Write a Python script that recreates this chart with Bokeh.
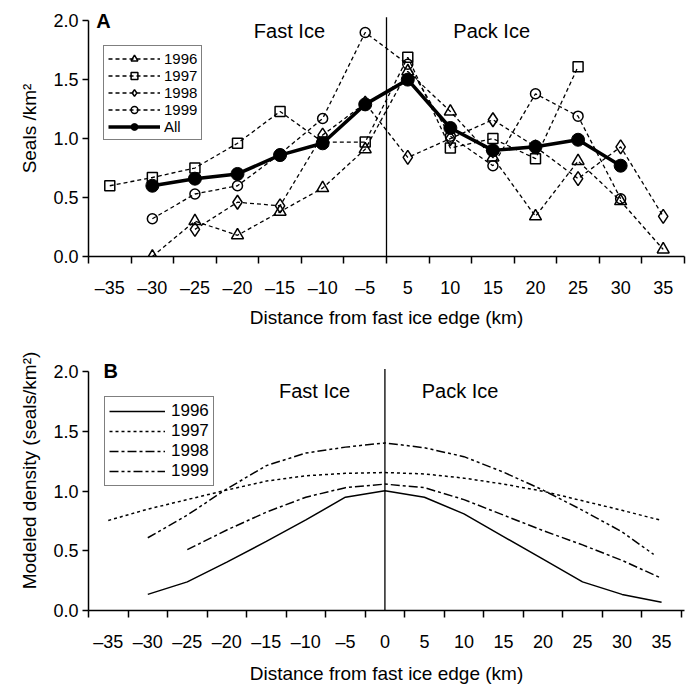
from bokeh.plotting import figure
from bokeh.layouts import column
from bokeh.models import (Range1d, FixedTicker, Label, Legend, LegendItem,
                          PrintfTickFormatter)
from bokeh.embed import file_html
from bokeh.resources import INLINE

# ---------------- Panel A data (observed densities) ----------------
dist_a = [-35, -30, -25, -20, -15, -10, -5, 5, 10, 15, 20, 25, 30, 35]

x1996_a = [-30, -25, -20, -15, -10, -5, 5, 10, 15, 20, 25, 30, 35]
y1996_a = [0.00, 0.30, 0.18, 0.38, 0.58, 0.91, 1.57, 1.23, 0.84, 0.34, 0.81, 0.47, 0.06]

x1997_a = [-35, -30, -25, -20, -15, -10, -5, 5, 10, 15, 20, 25]
y1997_a = [0.60, 0.67, 0.75, 0.96, 1.23, 0.97, 0.97, 1.69, 0.92, 1.00, 0.83, 1.61]

x1998_a = [-25, -20, -15, -10, -5, 5, 10, 15, 20, 25, 30, 35]
y1998_a = [0.23, 0.46, 0.43, 1.03, 1.30, 0.84, 1.00, 1.16, 0.93, 0.66, 0.93, 0.34]

x1999_a = [-30, -25, -20, -15, -10, -5, 5, 10, 15, 20, 25, 30]
y1999_a = [0.32, 0.53, 0.60, 0.87, 1.17, 1.90, 1.63, 1.02, 0.77, 1.38, 1.19, 0.49]

xall_a = [-30, -25, -20, -15, -10, -5, 5, 10, 15, 20, 25, 30]
yall_a = [0.60, 0.66, 0.70, 0.86, 0.96, 1.29, 1.50, 1.09, 0.90, 0.93, 0.99, 0.77]

# ---------------- Panel B data (modeled densities) ----------------
x1996_b = [-30, -25, -20, -15, -10, -5, 0, 5, 10, 15, 20, 25, 30, 35]
y1996_b = [0.135, 0.24, 0.405, 0.58, 0.76, 0.95, 1.005, 0.95, 0.81, 0.62, 0.43, 0.24, 0.135, 0.07]

x1997_b = [-35, -30, -25, -20, -15, -10, -5, 0, 5, 10, 15, 20, 25, 30, 35]
y1997_b = [0.755, 0.85, 0.93, 1.01, 1.085, 1.13, 1.15, 1.157, 1.145, 1.11, 1.06, 1.0, 0.92, 0.84, 0.755]

x1998_b = [-25, -20, -15, -10, -5, 0, 5, 10, 15, 20, 25, 30, 35]
y1998_b = [0.51, 0.675, 0.825, 0.95, 1.03, 1.06, 1.03, 0.93, 0.80, 0.67, 0.55, 0.42, 0.27]

x1999_b = [-30, -25, -20, -15, -10, -5, 0, 5, 10, 15, 20, 25, 30, 34]
y1999_b = [0.61, 0.80, 1.02, 1.215, 1.32, 1.37, 1.405, 1.365, 1.29, 1.16, 1.01, 0.84, 0.66, 0.47]

y_ticks = [0.0, 0.5, 1.0, 1.5, 2.0]
x_ticks_b = [-35, -30, -25, -20, -15, -10, -5, 0, 5, 10, 15, 20, 25, 30, 35]

# fast-ice edge divider: category boundary in A, 0 km in B
edge_a_index = dist_a.index(5)
edge_b_km = 0
divider_top_a = 2.03
divider_top_b = 2.025

FONT = "Liberation Sans"
TICK_FS = "18px"


def en(v):
    return str(v).replace("-", "\u2013")


def style_axes(p):
    for ax in (p.xaxis[0], p.yaxis[0]):
        ax.axis_line_width = 1.5
        ax.axis_line_color = "black"
        ax.major_tick_line_width = 1.5
        ax.minor_tick_line_width = 1.5
        ax.major_tick_line_color = "black"
        ax.minor_tick_line_color = "black"
        ax.major_label_text_font = FONT
        ax.major_label_text_font_size = TICK_FS
        ax.major_label_text_color = "black"
        ax.axis_label_text_font = FONT
        ax.axis_label_text_font_size = "19px"
        ax.axis_label_text_font_style = "normal"
        ax.axis_label_text_color = "black"
    p.yaxis.major_tick_out = 6
    p.yaxis.major_tick_in = 0
    p.yaxis.minor_tick_out = 0
    p.yaxis.minor_tick_in = 0
    p.yaxis.ticker = FixedTicker(ticks=y_ticks)
    p.yaxis.formatter = PrintfTickFormatter(format="%.1f")
    p.yaxis.major_label_standoff = 4
    p.yaxis.bounds = (0, 2.0)
    p.xaxis.major_tick_out = 0
    p.xaxis.major_tick_in = 0
    p.xaxis.minor_tick_out = 7
    p.xaxis.minor_tick_in = 0
    p.xaxis.major_label_standoff = 14
    p.xgrid.visible = False
    p.ygrid.visible = False
    p.outline_line_color = None


def txt(x, y, s, bold=False):
    return Label(x=x, y=y, text=s, text_font=FONT, text_font_size="20px",
                 text_font_style="bold" if bold else "normal", text_color="black",
                 text_align="center", text_baseline="middle")


# ================= Panel A =================
ncat = len(dist_a)
pos = {d: i + 0.5 for i, d in enumerate(dist_a)}

pA = figure(width=694, height=330, x_range=Range1d(0, ncat), y_range=Range1d(0, 2.171),
            output_backend="svg", toolbar_location=None,
            min_border_left=88, min_border_right=10, min_border_top=0, min_border_bottom=63)
style_axes(pA)
pA.xaxis.ticker = FixedTicker(ticks=[pos[d] for d in dist_a], minor_ticks=list(range(ncat + 1)))
pA.xaxis.major_label_overrides = {pos[d]: en(d) for d in dist_a}
pA.xaxis.axis_label = "Distance from fast ice edge (km)"
pA.xaxis.axis_label_standoff = 6
pA.yaxis.axis_label = "Seals /km\u00b2"
pA.yaxis.axis_label_standoff = 10

pA.segment(x0=[edge_a_index], y0=[0], x1=[edge_a_index], y1=[divider_top_a],
           line_color="black", line_width=1.3)

dash = "4 3"
items = []
series_a = [
    ("1996", x1996_a, y1996_a, "triangle", 12),
    ("1997", x1997_a, y1997_a, "square", 10),
    ("1998", x1998_a, y1998_a, "diamond", 14),
    ("1999", x1999_a, y1999_a, "circle", 10),
]
for lab, xs, ys, mk, sz in series_a:
    xx = [pos[v] for v in xs]
    r1 = pA.line(xx, ys, line_color="black", line_width=1.3, line_dash=dash)
    r2 = pA.scatter(xx, ys, marker=mk, size=sz, fill_color=None,
                    line_color="black", line_width=1.5)
    items.append(LegendItem(label=lab, renderers=[r1, r2]))
xx = [pos[v] for v in xall_a]
r1 = pA.line(xx, yall_a, line_color="black", line_width=3.5)
r2 = pA.scatter(xx, yall_a, marker="circle", size=13, fill_color="black", line_color="black")
items.append(LegendItem(label="All", renderers=[r1, r2]))

legA = Legend(items=items, location=(15, 116), border_line_color="black", border_line_width=1.5,
              background_fill_color="white", background_fill_alpha=1.0,
              padding=4, spacing=0, margin=0, label_height=17, glyph_height=17, glyph_width=52,
              label_standoff=4, label_text_font=FONT, label_text_font_size="15px",
              label_text_color="black")
pA.add_layout(legA)

pA.add_layout(txt(0.35, 2.0, "A", bold=True))
pA.add_layout(txt(4.72, 1.91, "Fast Ice"))
pA.add_layout(txt(9.47, 1.91, "Pack Ice"))

# ================= Panel B =================
pB = figure(width=694, height=356, x_range=Range1d(-37.5, 37.9), y_range=Range1d(0, 2.348),
            output_backend="svg", toolbar_location=None,
            min_border_left=88, min_border_right=10, min_border_top=0, min_border_bottom=66)
style_axes(pB)
pB.xaxis.ticker = FixedTicker(ticks=x_ticks_b, minor_ticks=[t - 2.5 for t in x_ticks_b] + [37.5])
pB.xaxis.major_label_overrides = {t: en(t) for t in x_ticks_b}
pB.xaxis.axis_label = "Distance from fast ice edge (km)"
pB.xaxis.axis_label_standoff = 8
pB.yaxis.axis_label = "Modeled density (seals/km\u00b2)"
pB.yaxis.axis_label_standoff = 10

pB.segment(x0=[edge_b_km], y0=[0], x1=[edge_b_km], y1=[divider_top_b],
           line_color="black", line_width=1.3)

series_b = [
    ("1996", x1996_b, y1996_b, "solid"),
    ("1997", x1997_b, y1997_b, "3 3"),
    ("1998", x1998_b, y1998_b, "9 3 3 3"),
    ("1999", x1999_b, y1999_b, "9 3 3 3 3 3"),
]
itemsB = []
for lab, xs, ys, d in series_b:
    r = pB.line(xs, ys, line_color="black", line_width=1.5, line_dash=d)
    itemsB.append(LegendItem(label=lab, renderers=[r]))
legB = Legend(items=itemsB, location=(16, 124), border_line_color="black", border_line_width=1.5,
              background_fill_color="white", background_fill_alpha=1.0,
              padding=4, spacing=0, margin=0, label_height=20, glyph_height=20, glyph_width=56,
              label_standoff=6, label_text_font=FONT, label_text_font_size="17px",
              label_text_color="black")
pB.add_layout(legB)

pB.add_layout(txt(-34.7, 2.01, "B", bold=True))
pB.add_layout(txt(-8.9, 1.84, "Fast Ice"))
pB.add_layout(txt(9.5, 1.84, "Pack Ice"))

layout = column(pA, pB, spacing=0)
open("out.html", "w").write(file_html(layout, INLINE))
